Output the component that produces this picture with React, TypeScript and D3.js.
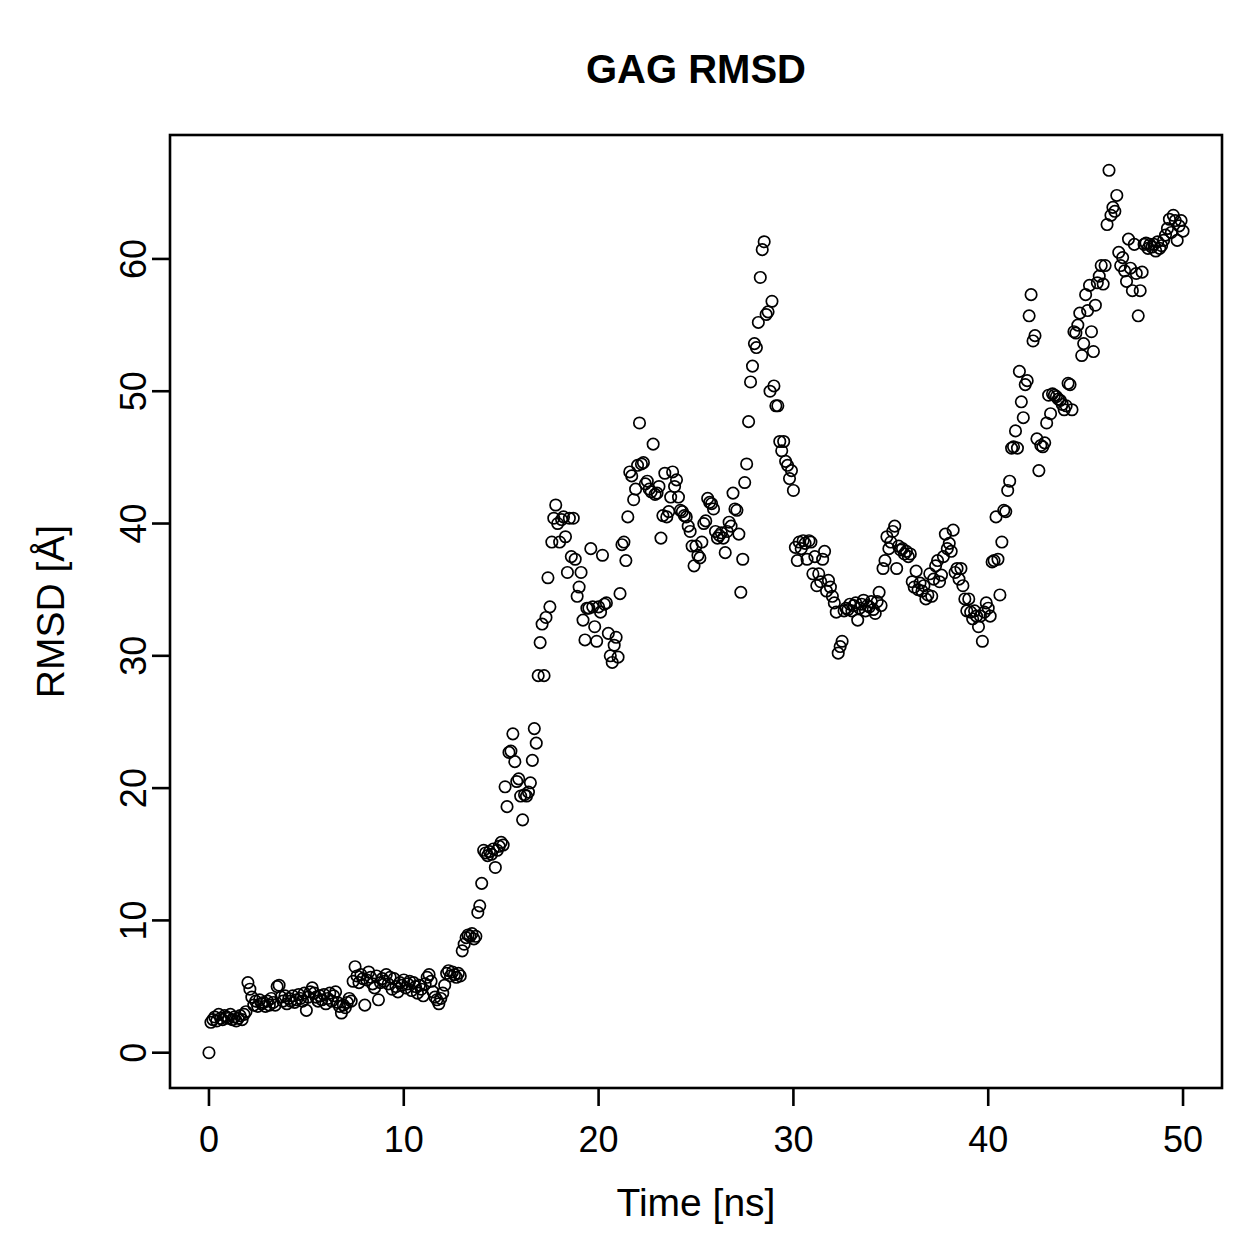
import React from "react";
import * as d3 from "d3";

// RMSD values, one frame every 0.1 ns, rows of 1 ns
const rmsd: number[] = [
  0, 2.3, 2.5, 2.7, 2.4, 2.9, 2.6, 2.5, 2.8, 2.7,
  2.6, 2.9, 2.5, 2.7, 2.4, 2.6, 2.8, 2.5, 2.9, 3.1,
  5.3, 4.8, 4.2, 3.6, 3.9, 3.5, 4.0, 3.7, 3.8, 3.5,
  3.9, 3.6, 4.1, 3.8, 3.6, 5.0, 5.1, 4.2, 3.9, 4.3,
  3.7, 4.1, 3.9, 4.3, 3.8, 4.0, 4.4, 4.1, 3.9, 4.5,
  3.2, 4.2, 4.6, 4.9, 4.5, 4.2, 3.9, 4.3, 4.0, 4.4,
  3.7, 4.1, 4.5, 3.9, 4.3, 4.6, 3.8, 3.5, 3.0, 3.6,
  3.4, 3.8, 4.1, 3.9, 5.4, 6.5, 5.8, 5.3, 5.9, 5.6,
  3.6, 5.5, 6.1, 5.7, 5.2, 4.9, 5.8, 4.0, 5.3, 5.6,
  5.4, 5.9, 5.2, 5.7, 4.8, 5.6, 5.0, 4.6, 5.3, 5.1,
  5.5, 4.9, 5.2, 5.4, 4.7, 5.3, 5.0, 4.5, 5.1, 4.8,
  4.3, 5.2, 5.7, 5.9, 5.4, 4.6, 4.2, 4.0, 3.7, 4.1,
  4.5, 5.1, 6.0, 6.2, 5.8, 6.1, 5.9, 5.7, 6.0, 5.8,
  7.7, 8.2, 8.7, 8.9, 8.8, 9.0, 8.6, 8.8, 10.6, 11.1,
  12.8, 15.3, 15.1, 14.9, 15.2, 15.0, 15.4, 14.0, 15.3, 15.6,
  15.9, 15.7, 20.1, 18.6, 22.7, 22.8, 24.1, 22.0, 20.5, 20.7,
  19.4, 17.6, 19.5, 19.4, 19.7, 20.4, 22.1, 24.5, 23.4, 28.5,
  31.0, 32.4, 28.5, 32.9, 35.9, 33.7, 38.6, 40.4, 41.4, 40.0,
  38.6, 40.3, 40.5, 39.0, 36.3, 40.4, 37.5, 40.4, 37.3, 34.5,
  35.2, 36.3, 32.7, 31.2, 33.6, 33.6, 38.1, 33.7, 32.2, 31.1,
  33.7, 33.3, 37.6, 33.9, 34.0, 31.7, 30.0, 29.5, 30.8, 31.4,
  29.9, 34.7, 38.4, 38.6, 37.2, 40.5, 43.9, 43.6, 41.8, 42.6,
  44.4, 47.6, 44.5, 44.6, 43.0, 43.2, 42.6, 42.4, 46.0, 42.2,
  42.3, 42.8, 38.9, 40.6, 43.8, 40.5, 40.9, 42.0, 43.9, 42.8,
  43.3, 42.0, 41.0, 40.9, 40.6, 40.5, 39.8, 39.4, 38.3, 36.8,
  38.3, 37.6, 37.4, 38.6, 40.0, 40.2, 41.9, 41.6, 41.5, 41.1,
  39.4, 38.9, 39.1, 39.3, 38.9, 37.8, 39.4, 40.1, 39.8, 42.3,
  41.1, 41.0, 39.2, 34.8, 37.3, 43.1, 44.5, 47.7, 50.7, 51.9,
  53.6, 53.3, 55.2, 58.6, 60.7, 61.3, 55.8, 56.0, 50.0, 56.8,
  50.4, 48.9, 48.9, 46.2, 45.5, 46.2, 44.7, 44.4, 43.4, 44.0,
  42.5, 38.2, 37.2, 38.6, 38.1, 38.7, 38.5, 37.3, 38.7, 38.6,
  36.2, 37.5, 35.3, 36.2, 35.6, 37.3, 37.9, 34.9, 35.7, 35.2,
  34.5, 34.0, 33.3, 30.2, 30.7, 31.1, 33.4, 33.6, 33.5, 33.9,
  33.4, 33.8, 34.0, 32.7, 33.6, 33.9, 34.2, 33.4, 33.8, 33.7,
  34.1, 33.5, 33.2, 34.1, 34.8, 33.8, 36.6, 37.2, 39.0, 38.1,
  38.6, 39.4, 39.8, 36.6, 38.3, 38.0, 38.1, 37.7, 37.9, 37.5,
  37.7, 35.6, 35.2, 36.4, 35.0, 35.5, 34.9, 35.3, 34.3, 34.6,
  36.2, 34.5, 35.8, 36.8, 37.2, 35.6, 36.1, 37.5, 39.2, 38.1,
  38.5, 37.9, 39.5, 36.3, 36.6, 35.8, 36.6, 35.3, 34.3, 33.4,
  34.3, 33.3, 32.8, 33.4, 33.0, 32.2, 33.0, 31.1, 33.3, 34.0,
  33.6, 33.0, 37.1, 37.2, 40.5, 37.3, 34.6, 38.6, 41.0, 40.9,
  42.5, 43.2, 45.7, 45.8, 47.0, 45.7, 51.5, 49.2, 48.0, 50.5,
  50.8, 55.7, 57.3, 53.8, 54.2, 46.4, 44.0, 45.9, 45.8, 46.1,
  47.6, 49.7, 48.3, 49.8, 49.7, 49.6, 49.4, 49.3, 49.0, 48.6,
  48.9, 50.6, 50.5, 48.6, 54.5, 54.4, 55.0, 55.9, 52.7, 53.6,
  57.3, 56.1, 58.0, 54.5, 53.0, 56.5, 58.2, 58.7, 59.5, 58.1,
  59.5, 62.6, 66.7, 63.3, 63.9, 63.6, 64.8, 60.5, 59.5, 60.1,
  59.1, 58.3, 61.5, 59.3, 57.6, 61.1, 58.9, 55.7, 57.6, 59.0,
  61.1, 61.2, 60.8, 61.1, 60.9, 61.1, 60.6, 61.3, 60.8, 61.0,
  61.4, 61.8, 62.3, 63.0, 62.0, 63.3, 62.9, 61.4, 62.5, 62.9,
  62.1,
];
const frameStep = 0.1; // ns between frames
const xTicks: number[] = [0, 10, 20, 30, 40, 50];
const yTicks: number[] = [0, 10, 20, 30, 40, 50, 60];
const title = "GAG RMSD";
const xLabel = "Time [ns]";
const yLabel = "RMSD [Å]";

const W = 1259;
const H = 1259;
const plot = {left: 170, right: 1222, top: 135, bottom: 1088};
const font = "'Liberation Sans', Arial, Helvetica, sans-serif";

// R style axis range: data extent padded by 4% each side
function rExtent(vals: number[]): [number, number] {
  const [lo, hi] = d3.extent(vals) as [number, number];
  const pad = (hi - lo) * 0.04;
  return [lo - pad, hi + pad];
}

export default function App(): React.ReactElement {
  const pts = rmsd.map((v, i) => ({t: i * frameStep, v}));
  const x = d3.scaleLinear().domain(rExtent(pts.map(p => p.t))).range([plot.left, plot.right]);
  const y = d3.scaleLinear().domain(rExtent(rmsd)).range([plot.bottom, plot.top]);

  return (
    <svg width={W} height={H} style={{position: "absolute", left: 0, top: 0, background: "#fff"}} fontFamily={font}>
      <rect x={0} y={0} width={W} height={H} fill="#fff" />
      <text x={(plot.left + plot.right) / 2} y={83} textAnchor="middle" fontSize={40} fontWeight="bold">{title}</text>

      <g>
        {pts.map((p, i) => (
          <circle key={i} cx={x(p.t)} cy={y(p.v)} r={5.7} fill="none" stroke="#000" strokeWidth={1.7} />
        ))}
      </g>

      <rect x={plot.left} y={plot.top} width={plot.right - plot.left} height={plot.bottom - plot.top}
            fill="none" stroke="#000" strokeWidth={2.6} />

      <g>
        {xTicks.map(t => (
          <g key={t}>
            <line x1={x(t)} x2={x(t)} y1={plot.bottom} y2={plot.bottom + 18} stroke="#000" strokeWidth={2.6} />
            <text x={x(t)} y={1152} textAnchor="middle" fontSize={36}>{t}</text>
          </g>
        ))}
      </g>

      <g>
        {yTicks.map(t => (
          <g key={t}>
            <line x1={plot.left} x2={plot.left - 18} y1={y(t)} y2={y(t)} stroke="#000" strokeWidth={2.6} />
            <text transform={`translate(146,${y(t)}) rotate(-90)`} textAnchor="middle" fontSize={36}>{t}</text>
          </g>
        ))}
      </g>

      <text x={(plot.left + plot.right) / 2} y={1216} textAnchor="middle" fontSize={39}>{xLabel}</text>
      <text transform={`translate(64,${(plot.top + plot.bottom) / 2}) rotate(-90)`} textAnchor="middle" fontSize={39}>{yLabel}</text>
    </svg>
  );
}
